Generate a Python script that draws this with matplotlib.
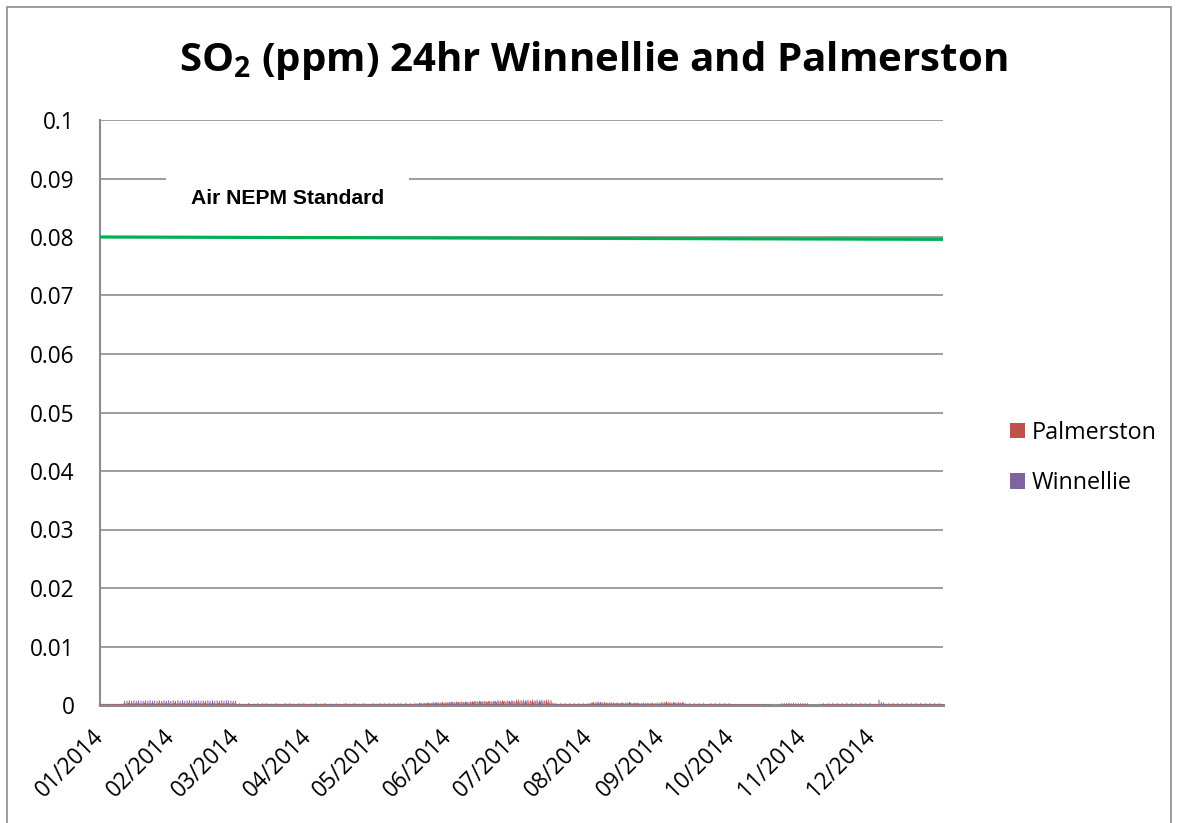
import matplotlib
matplotlib.use("Agg")
import matplotlib.pyplot as plt
from matplotlib.patches import Patch, Rectangle
import numpy as np

# ---- data (daily 24hr SO2, in units of 0.0001 ppm, one string per month) ----
months = ["01/2014", "02/2014", "03/2014", "04/2014", "05/2014", "06/2014",
          "07/2014", "08/2014", "09/2014", "10/2014", "11/2014", "12/2014"]

palmerston_months = [
    "2222222222" + "334343433434343434434",
    "3434343434" + "4343434343" + "43434343",
    "2322232223" + "2323222322" + "2323222323" + "2",
    "2223222322" + "2232223222" + "3222322232",
    "2323232323" + "3232323343" + "4343545454" + "5",
    "5656565656" + "6767676767" + "7878787879",
    "9898989898" + "9899833232" + "3232323232" + "3",
    "3434345435" + "4343434534" + "3434343434" + "3",
    "5565454545" + "3232323232" + "2323232323",
    "2121212121" + "2121212000" + "0033343433" + "3",
    "3330000023" + "2323232323" + "2323232323",
    "2229542323" + "2323232323" + "2323232323" + "2",
]
winnellie_months = [
    "1111111111" + "778787877878787878787",
    "8787878878" + "7878787878" + "78788777",
    "1212121212" + "1221212121" + "2121212121" + "1",
    "1212121212" + "1212121212" + "1212121212",
    "2121212121" + "2121212232" + "3434343434" + "4",
    "4545454545" + "5656565656" + "5656565656",
    "5656565656" + "5654422121" + "2121212121" + "2",
    "4556544343" + "3434343434" + "3232323232" + "3",
    "3434343434" + "2121212121" + "1212121212",
    "1111111111" + "1111111000" + "0011111111" + "1",
    "1110000011" + "1212121212" + "1212121212",
    "1112221212" + "1212121212" + "1212121212" + "1",
]
unit = 0.0001
nepm_standard_start = 0.0800
nepm_standard_end = 0.0796

palmerston = np.array([int(c) for m in palmerston_months for c in m]) * unit
winnellie = np.array([int(c) for m in winnellie_months for c in m]) * unit
month_lengths = [len(m) for m in palmerston_months]
month_starts = np.concatenate([[0], np.cumsum(month_lengths)[:-1]])
n_days = len(palmerston)

# ---- figure ----
plt.rcParams['font.family'] = ['Open Sans', 'DejaVu Sans']
plt.rcParams['mathtext.fontset'] = 'custom'
plt.rcParams['mathtext.rm'] = 'Open Sans'
plt.rcParams['mathtext.bf'] = 'Open Sans:bold'

W, H = 1177, 823
fig = plt.figure(figsize=(W / 100, H / 100), dpi=100)
fig.patch.set_facecolor('white')

L, R, T, B = 100, 943, 120, 705
ax = fig.add_axes([L / W, 1 - B / H, (R - L) / W, (B - T) / H])

# outer border
fig.add_artist(Rectangle((7 / W, -0.01), (1171 - 7) / W, 1 - 7 / H + 0.01,
                         transform=fig.transFigure, fill=False,
                         edgecolor='#8c8c8c', linewidth=1.2))

x = np.arange(n_days)
bw = 0.42
ax.bar(x - bw, palmerston, width=bw, align='edge', color='#C0504D',
       linewidth=0, zorder=3, snap=False)
ax.bar(x, winnellie, width=bw, align='edge', color='#8064A2',
       linewidth=0, zorder=3, snap=False)

ax.plot([0 - 0.5, n_days - 0.5], [nepm_standard_start, nepm_standard_end],
        color='#00B050', linewidth=2.3, zorder=4, solid_capstyle='butt')

ax.set_xlim(-0.5, n_days - 0.5)
ax.set_ylim(0, 0.1)
yt = np.round(np.arange(0, 0.1001, 0.01), 2)
ax.set_yticks(yt)
ax.set_yticklabels(["0" if v == 0 else ("%g" % v) for v in yt], fontsize=16.3)
ax.yaxis.grid(True, color='#8c8c8c', linewidth=1.2, zorder=0)
ax.set_axisbelow(True)
ax.tick_params(axis='y', length=0, pad=18.5)
ax.tick_params(axis='x', length=0, pad=20)

ax.set_xticks(month_starts - 0.5)
ax.set_xticklabels(months, rotation=45, ha='right', va='center',
                   rotation_mode='anchor', fontsize=16.3)

for s in ['top', 'right']:
    ax.spines[s].set_visible(False)
ax.spines['left'].set_color('#8c8c8c')
ax.spines['left'].set_linewidth(1.5)
ax.spines['bottom'].set_color('#8c8c8c')
ax.spines['bottom'].set_linewidth(2.2)

# annotation box
ax.text(0.2224, 0.865, "Air NEPM Standard", transform=ax.transAxes,
        ha='center', va='center', fontsize=15.2, fontweight='bold',
        family=['Liberation Sans', 'DejaVu Sans'], zorder=5,
        bbox=dict(boxstyle='square,pad=1.2', facecolor='white',
                  edgecolor='none'))

# title
fig.text(593 / W, 1 - 60 / H,
         r"SO$_\mathbf{2}$ (ppm) 24hr Winnellie and Palmerston",
         ha='center', va='center', fontsize=29, fontweight='bold')

# legend
handles = [Patch(facecolor='#C0504D', edgecolor='none', label='Palmerston'),
           Patch(facecolor='#8064A2', edgecolor='none', label='Winnellie')]
fig.legend(handles=handles, loc='center left',
           bbox_to_anchor=(989 / W, 1 - 458 / H), frameon=False,
           fontsize=16.8, handlelength=0.66, handleheight=0.66,
           handletextpad=0.28, labelspacing=1.15)

fig.savefig("out.png", dpi=100, facecolor='white')
